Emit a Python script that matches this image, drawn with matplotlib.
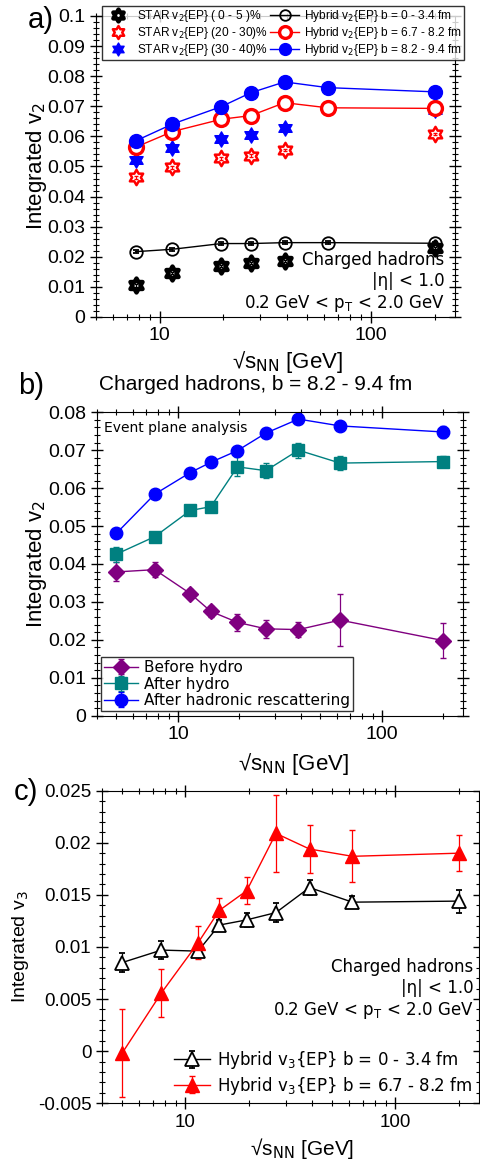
"""Integrated v2 / v3 vs collision energy, three stacked panels."""
import numpy as np
import matplotlib
matplotlib.use("Agg")
import matplotlib.pyplot as plt  # noqa: E402
from matplotlib.path import Path  # noqa: E402
from matplotlib.ticker import LogLocator, FuncFormatter, MultipleLocator, NullFormatter  # noqa: E402

plt.rcParams.update({"font.family": ["Liberation Sans", "DejaVu Sans"], "font.size": 14,
                     "mathtext.fontset": "dejavusans"})

# ---- panel a data ----
e_star = [7.7, 11.5, 19.6, 27, 39, 200]
star_0_5 = [0.0105, 0.0147, 0.0169, 0.0180, 0.0186, 0.0228]
star_20_30 = [0.0464, 0.0497, 0.0527, 0.0536, 0.0555, 0.0607]
star_30_40 = [0.0522, 0.0560, 0.0590, 0.0606, 0.0627, 0.0688]

e_hyb = [7.7, 11.5, 19.6, 27, 39, 62.4, 200]
hyb_b0 = [0.0217, 0.0225, 0.0244, 0.0244, 0.0247, 0.0247, 0.0245]
hyb_b67 = [0.0564, 0.0616, 0.0657, 0.0669, 0.0712, 0.0695, 0.0693]
hyb_b82 = [0.0585, 0.0641, 0.0699, 0.0745, 0.0781, 0.0762, 0.0748]
hyb_b82_err = [0.0005, 0.0005, 0.0005, 0.0005, 0.0005, 0.0005, 0.0012]

# ---- panel b data ----
e_b = [5, 7.7, 11.5, 14.5, 19.6, 27, 39, 62.4, 200]
before_hydro = [0.0379, 0.0385, 0.0322, 0.0275, 0.0246, 0.0229, 0.0227, 0.0252, 0.0198]
before_err = [0.0025, 0.0020, 0.0013, 0.0015, 0.0023, 0.0023, 0.0020, 0.0069, 0.0047]
after_hydro = [0.0426, 0.0472, 0.0541, 0.0551, 0.0656, 0.0646, 0.0700, 0.0666, 0.0670]
after_hydro_err = [0.0020, 0.0010, 0.0008, 0.0008, 0.0025, 0.0020, 0.0020, 0.0018, 0.0015]
after_resc = [0.0481, 0.0584, 0.0641, 0.0668, 0.0699, 0.0745, 0.0782, 0.0764, 0.0748]
after_resc_err = [0.0005, 0.0005, 0.0005, 0.0005, 0.0005, 0.0005, 0.0005, 0.0005, 0.0015]

# ---- panel c data ----
e_c = [5, 7.7, 11.5, 14.5, 19.6, 27, 39, 62.4, 200]
v3_b0 = [0.0085, 0.0097, 0.0096, 0.0121, 0.0126, 0.0133, 0.0157, 0.0143, 0.0144]
v3_b0_err = [0.0009, 0.0009, 0.0006, 0.0005, 0.0007, 0.0009, 0.0007, 0.0006, 0.0011]
v3_b67 = [-0.0002, 0.0056, 0.0104, 0.0135, 0.0154, 0.0209, 0.0194, 0.0187, 0.0190]
v3_b67_err = [0.0042, 0.0023, 0.0016, 0.0012, 0.0013, 0.0037, 0.0023, 0.0025, 0.0017]

hexagram = Path.unit_regular_star(6, 0.577)
XLABEL = r"√s$_{\mathrm{NN}}$ [GeV]"
ANNOT = "Charged hadrons\n|η| < 1.0\n0.2 GeV < p$_{\\mathrm{T}}$ < 2.0 GeV"


def style_log_x(ax, lo, hi):
    ax.set_xscale("log")
    ax.set_xlim(lo, hi)
    ax.xaxis.set_major_locator(LogLocator(base=10, numticks=5))
    ax.xaxis.set_minor_locator(LogLocator(base=10, subs=np.arange(2, 10), numticks=20))
    ax.xaxis.set_major_formatter(FuncFormatter(lambda v, p: f"{v:g}"))
    ax.xaxis.set_minor_formatter(NullFormatter())
    ax.tick_params(which="both", direction="inout", top=True, right=True)
    ax.tick_params(which="major", length=8, width=1)
    ax.tick_params(which="minor", length=5, width=0.8)


def zero_fmt(v, p):
    return f"{v:g}" if abs(v) > 1e-9 else "0"


fig = plt.figure(figsize=(4.8, 11.59), dpi=100)

# ================= panel a =================
ax = fig.add_axes([0.2, 0.7265, 0.748, 0.2597])
style_log_x(ax, 5, 250)
ax.set_ylim(0, 0.1)
ax.yaxis.set_major_locator(MultipleLocator(0.01))
ax.yaxis.set_minor_locator(MultipleLocator(0.002))
ax.yaxis.set_major_formatter(FuncFormatter(zero_fmt))

s1, = ax.plot(e_star, star_0_5, ls="none", marker=hexagram, ms=10, mfc="white", mec="k", mew=3.2)
s2, = ax.plot(e_star, star_20_30, ls="none", marker=hexagram, ms=11, mfc="white", mec="red", mew=1.8)
s3, = ax.plot(e_star, star_30_40, ls="none", marker=hexagram, ms=11, mfc="blue", mec="blue", mew=1)
ax.errorbar(e_star, star_0_5, yerr=0.0004, fmt="none", ecolor="k", capsize=1.5, lw=0.8)
ax.errorbar(e_star, star_20_30, yerr=0.0004, fmt="none", ecolor="red", capsize=1.5, lw=0.8)

l1 = ax.errorbar(e_hyb, hyb_b0, yerr=0.0005, color="k", marker="o", ms=9, mfc="none",
                 mew=1.3, lw=1, capsize=2, elinewidth=0.8)
l2 = ax.errorbar(e_hyb, hyb_b67, yerr=0.0005, color="red", marker="o", ms=10, mfc="white",
                 mew=2.4, lw=1, capsize=2, elinewidth=0.8)
l3 = ax.errorbar(e_hyb, hyb_b82, yerr=hyb_b82_err, color="blue", marker="o", ms=10,
                 lw=1, capsize=2, elinewidth=0.8)

leg = ax.legend([s1, s2, s3, l1[0], l2[0], l3[0]],
                ["STAR v$_2${EP} ( 0 - 5 )%", "STAR v$_2${EP} (20 - 30)%",
                 "STAR v$_2${EP} (30 - 40)%",
                 "Hybrid v$_2${EP} b = 0 - 3.4 fm", "Hybrid v$_2${EP} b = 6.7 - 8.2 fm",
                 "Hybrid v$_2${EP} b = 8.2 - 9.4 fm"],
                ncol=2, fontsize=8.6, loc="upper left", bbox_to_anchor=(102 / 480, 1 - 6 / 1159),
                bbox_transform=fig.transFigure, frameon=True, fancybox=False, edgecolor="k",
                borderpad=0.15, labelspacing=0.1, handlelength=2.4, handletextpad=0.4,
                columnspacing=0.2, borderaxespad=0, markerscale=0.85)
leg.get_frame().set_linewidth(1)
ax.text(0.97, 0.01, ANNOT, transform=ax.transAxes, ha="right", va="bottom",
        fontsize=12, family="DejaVu Sans", linespacing=1.2)
ax.set_ylabel("Integrated v$_2$", fontsize=16)
ax.yaxis.set_label_coords(-0.13, 0.5)
ax.set_xlabel(XLABEL, fontsize=16)
ax.xaxis.set_label_coords(0.532, -0.105)
fig.text(28 / 480, 1 - 20 / 1159, "a)", fontsize=21, va="center", ha="left")

# ================= panel b =================
ax = fig.add_axes([0.2015, 0.3825, 0.7631, 0.2618])
style_log_x(ax, 4, 250)
ax.set_ylim(0, 0.08)
ax.yaxis.set_major_locator(MultipleLocator(0.01))
ax.yaxis.set_minor_locator(MultipleLocator(0.002))
ax.yaxis.set_major_formatter(FuncFormatter(zero_fmt))

ax.errorbar(e_b, before_hydro, yerr=before_err, color="#800080", marker="D", ms=8,
            lw=1, capsize=2.5, elinewidth=0.9, label="Before hydro")
ax.errorbar(e_b, after_hydro, yerr=after_hydro_err, color="#008080", marker="s", ms=8,
            lw=1, capsize=2.5, elinewidth=0.9, label="After hydro")
ax.errorbar(e_b, after_resc, yerr=after_resc_err, color="blue", marker="o", ms=9,
            lw=1, capsize=2.5, elinewidth=0.9, label="After hadronic rescattering")
leg = ax.legend(loc="lower left", frameon=True, fancybox=False, edgecolor="k",
                borderpad=0.2, labelspacing=0.1, handlelength=2.2, handletextpad=0.4,
                borderaxespad=0.3, prop={"family": "DejaVu Sans", "size": 11})
leg.get_frame().set_linewidth(1)
ax.text(0.02, 0.97, "Event plane analysis", transform=ax.transAxes, ha="left", va="top",
        fontsize=10, family="DejaVu Sans")
ax.set_ylabel("Integrated v$_2$", fontsize=16)
ax.yaxis.set_label_coords(-0.13, 0.5)
ax.set_xlabel(XLABEL, fontsize=16)
ax.xaxis.set_label_coords(0.536, -0.115)
fig.text(256 / 480, 1 - 384 / 1159, "Charged hadrons, b = 8.2 - 9.4 fm", fontsize=15,
         ha="center", va="center")
fig.text(18 / 480, 1 - 386 / 1159, "b)", fontsize=21, va="center", ha="left")

# ================= panel c =================
ax = fig.add_axes([0.2119, 0.0481, 0.7861, 0.2697])
style_log_x(ax, 4, 250)
ax.set_ylim(-0.005, 0.025)
ax.yaxis.set_major_locator(MultipleLocator(0.005))
ax.yaxis.set_minor_locator(MultipleLocator(0.001))
ax.yaxis.set_major_formatter(FuncFormatter(zero_fmt))
ax.tick_params(labelsize=13.5)

ax.errorbar(e_c, v3_b0, yerr=v3_b0_err, color="k", marker="^", ms=10, mfc="white",
            mew=1.3, lw=1, capsize=2.5, elinewidth=0.9, label="Hybrid v$_3${EP} b = 0 - 3.4 fm")
ax.errorbar(e_c, v3_b67, yerr=v3_b67_err, color="red", marker="^", ms=10,
            lw=1, capsize=2.5, elinewidth=0.9, label="Hybrid v$_3${EP} b = 6.7 - 8.2 fm")
ax.legend(loc="lower right", frameon=False, borderpad=0.1, labelspacing=0.2,
          handlelength=2.2, handletextpad=0.4, borderaxespad=0.3,
          prop={"family": "DejaVu Sans", "size": 12})
ax.text(0.985, 0.465, ANNOT, transform=ax.transAxes, ha="right", va="top",
        fontsize=12, family="DejaVu Sans", linespacing=1.2)
ax.set_ylabel("Integrated v$_3$", fontsize=14)
ax.yaxis.set_label_coords(-0.187, 0.5)
ax.set_xlabel(XLABEL, fontsize=15)
ax.xaxis.set_label_coords(0.53, -0.105)
fig.text(14 / 480, 1 - 792 / 1159, "c)", fontsize=21, va="center", ha="left")

fig.savefig("out.png", dpi=100)
